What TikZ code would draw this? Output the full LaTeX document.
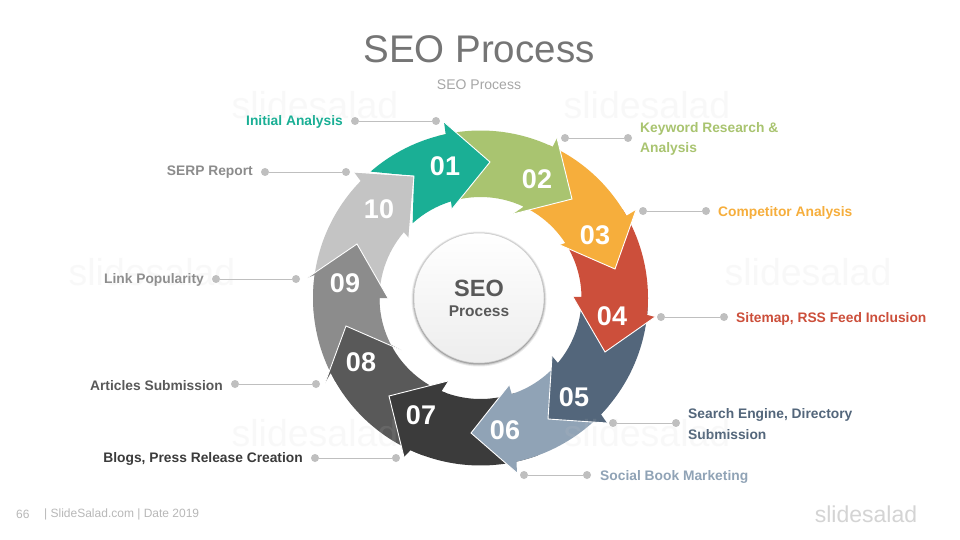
\documentclass[tikz,border=0pt]{standalone}
\usepackage{fontspec}
\setmainfont{Liberation Sans}
\definecolor{c01}{HTML}{1AAF95}
\definecolor{c02}{HTML}{A9C470}
\definecolor{c03}{HTML}{F6AE3C}
\definecolor{c04}{HTML}{CC4F3B}
\definecolor{c05}{HTML}{53667B}
\definecolor{c06}{HTML}{90A3B6}
\definecolor{c07}{HTML}{3B3B3B}
\definecolor{c08}{HTML}{595959}
\definecolor{c09}{HTML}{8C8C8C}
\definecolor{c10}{HTML}{C4C4C4}
\definecolor{dotc}{HTML}{BFBFBF}
\newcommand{\fs}[1]{\fontsize{#1}{#1}\selectfont}
% colour, outer start, outer end, barb, tip, barb, inner start, inner end
\newcommand{\arrowpiece}[8]{%
  \fill[#1] ([shift={(480.5,298)}]#2:167.5) arc[start angle=#2,end angle=#3,radius=167.5]
     -- #4 -- #5 -- #6 -- ([shift={(480.5,298)}]#7:101) arc[start angle=#7,end angle=#8,radius=101] -- cycle;
  \draw[headedge] #4 -- #5 -- #6;}
\tikzset{
  headedge/.style={white,line width=0.9pt,line join=miter},
  num/.style={text=white,font=\fs{27}\bfseries,inner sep=0pt},
  lab/.style={font=\fs{13.8}\bfseries,inner sep=0pt,align=left},
  dotn/.style={circle,fill=dotc,minimum size=8pt,inner sep=0pt},
  link/.style={draw=dotc,line width=0.9pt},
  wm/.style={text=black!20,opacity=0.12,font=\fs{37.5},inner sep=0pt}
}
\begin{document}
\begin{tikzpicture}[x=1pt,y=-1pt]
\fill[white,use as bounding box] (0,0) rectangle (960,540);
\node[text=black!54,font=\fs{38.5},inner sep=0pt] (title) at (479,49) {SEO Process};
\node[text=black!35,font=\fs{14},inner sep=0pt] (sub) at (479,85) {SEO Process};
% ring
\arrowpiece{c10}{175}{224.3}{(354,172)}{(414,176)}{(409,238)}{220.6}{175}
\arrowpiece{c09}{150}{187.9}{(307,278)}{(357,244)}{(388,298)}{180}{150}
\arrowpiece{c08}{110}{153.4}{(325,383)}{(346,326)}{(401,350)}{152.4}{110}
\arrowpiece{c07}{70}{114.7}{(404,457)}{(389,396)}{(448,381)}{112.7}{70}
\arrowpiece{c06}{40}{77.6}{(517,473)}{(471,433)}{(509,385)}{72}{40}
\arrowpiece{c05}{0}{44}{(607,423)}{(548,419)}{(552,356)}{40}{0}
\arrowpiece{c04}{-32}{5.8}{(655,317)}{(605,352)}{(573,297)}{-0.6}{-32}
\arrowpiece{c03}{-66}{-29.4}{(636,210)}{(615,269)}{(560,245)}{-33}{-65}
\arrowpiece{c02}{-105}{-64.5}{(557,138)}{(572,199)}{(513,214)}{-64.7}{-105}
\fill[c01] ([shift={(480.5,298)}]-131:167.5) arc[start angle=-131,end angle=-102,radius=167.5]
   -- (444,122) -- (490,162) -- (452,209) -- ([shift={(480.5,298)}]-107:101)
   arc[start angle=-107,end angle=-132.2,radius=101] -- (414,176) -- cycle;
\draw[headedge] (444,122) -- (490,162) -- (452,209);
\draw[headedge] (354,172) -- (414,176) -- (409,238);
% numbers
\node[num] (n01) at (445,166) {01};
\node[num] (n02) at (537,179) {02};
\node[num] (n03) at (595,235) {03};
\node[num] (n04) at (612,316) {04};
\node[num] (n05) at (574,397) {05};
\node[num] (n06) at (505,430) {06};
\node[num] (n07) at (421,415) {07};
\node[num] (n08) at (361,362) {08};
\node[num] (n09) at (345,283) {09};
\node[num] (n10) at (379,209) {10};
% centre
\foreach \r/\o in {67.5/0.08,66.5/0.12,65.5/0.2}{\fill[black,opacity=\o] (479,299) circle[radius=\r];}
\node[circle,minimum size=130pt,inner sep=0pt,top color=white,bottom color=black!7,draw=black!20,line width=0.5pt] (hub) at (479,298) {};
\node[text=c08,font=\fs{23.5}\bfseries,inner sep=0pt] (hubA) at (479,288) {SEO};
\node[text=c08,font=\fs{15.5}\bfseries,inner sep=0pt] (hubB) at (479,311) {Process};
% leaders
\foreach \n/\xa/\xb/\yy in {a/355/436/121,b/565/628/138,c/643/706/211,d/661/724/317,e/613/676/423,f/524/587/475,g/315/396/458,h/235/316/384,i/216/296/279,j/265/346/172}{
  \node[dotn] (\n1) at (\xa,\yy) {};
  \node[dotn] (\n2) at (\xb,\yy) {};
  \draw[link] (\n1) -- (\n2);
}
% labels
\node[lab,text=c01,anchor=east] (la) at (343,121.5) {Initial Analysis};
\node[lab,text=c02,anchor=west] (lb) at (640,139) {Keyword Research \&\\[7pt]Analysis};
\node[lab,text=c03,anchor=west] (lc) at (718,212.5) {Competitor Analysis};
\node[lab,text=c04,anchor=west] (ld) at (736,318.5) {Sitemap, RSS Feed Inclusion};
\node[lab,text=c05,anchor=west] (le) at (688,424) {Search Engine, Directory\\[7pt]Submission};
\node[lab,text=c06,anchor=west] (lf) at (600,476.5) {Social Book Marketing};
\node[lab,text=c07,anchor=east] (lg) at (303,458.5) {Blogs, Press Release Creation};
\node[lab,text=c08,anchor=east] (lh) at (223,385.5) {Articles Submission};
\node[lab,text=c09,anchor=east] (li) at (204,279.5) {Link Popularity};
\node[lab,text=c09,anchor=east] (lj) at (253,172.5) {SERP Report};
% footer
\node[text=black!28,font=\fs{12},inner sep=0pt,anchor=west] (pg) at (16,514) {66};
\node[text=black!28,font=\fs{12},inner sep=0pt,anchor=west] (ft) at (44,514) {| SlideSalad.com | Date 2019};
\node[text=black!17,font=\fs{23},inner sep=0pt] (logo) at (866,514) {slidesalad};
% watermarks
\node[wm] (w1) at (315,105) {slidesalad};
\node[wm] (w2) at (647,105) {slidesalad};
\node[wm] (w3) at (152,272) {slidesalad};
\node[wm] (w4) at (808,272) {slidesalad};
\node[wm] (w5) at (315,433) {slidesalad};
\node[wm] (w6) at (647,433) {slidesalad};
\end{tikzpicture}
\end{document}
